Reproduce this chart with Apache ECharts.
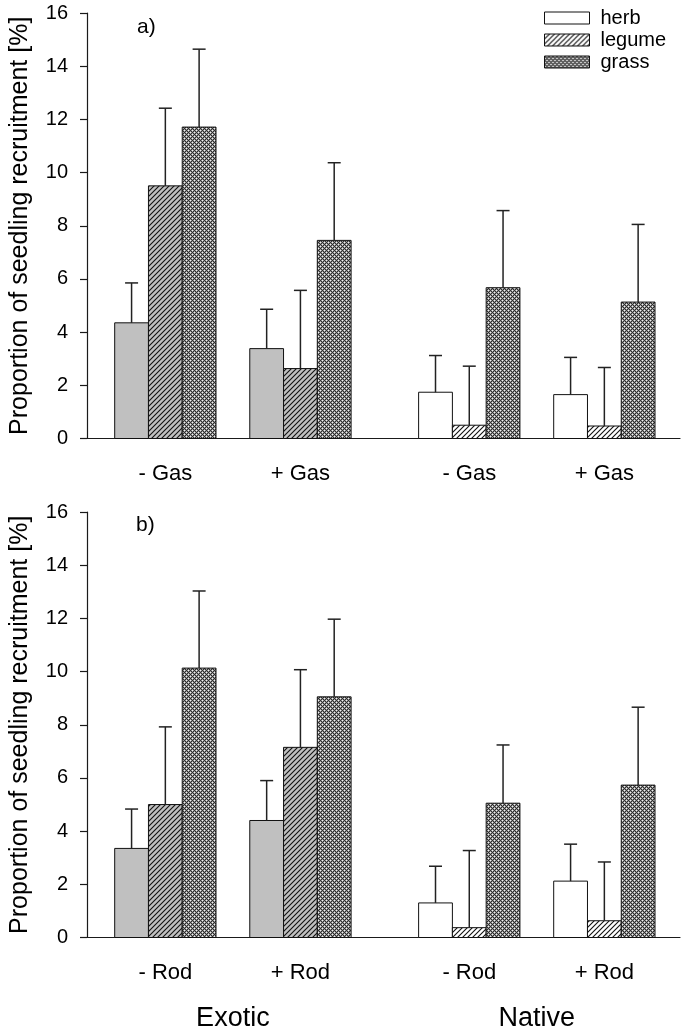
<!DOCTYPE html>
<html><head><meta charset="utf-8">
<script src="https://cdn.jsdelivr.net/npm/echarts@6/dist/echarts.min.js"></script>
<style>html,body{margin:0;padding:0;background:#fff}#c{width:685px;height:1032px}</style>
</head><body><div id="c"></div>
<script>
// ---------- data ----------
const seriesNames = ['herb', 'legume', 'grass'];
const treatmentsA = ['- Gas', '+ Gas', '- Gas', '+ Gas'];
const treatmentsB = ['- Rod', '+ Rod', '- Rod', '+ Rod'];
const origins = ['Exotic', 'Native'];
const groupOrigin = [0, 0, 1, 1];           // Exotic, Exotic, Native, Native
const panelLabels = ['a)', 'b)'];
const yAxisTitle = 'Proportion of seedling recruitment [%]';

// panel a (mean and upper end of error bar)
const herbA      = [4.35, 3.38, 1.74, 1.65];
const herbErrA   = [5.85, 4.86, 3.12, 3.05];
const legumeA    = [9.50, 2.63, 0.50, 0.47];
const legumeErrA = [12.42, 5.57, 2.72, 2.67];
const grassA     = [11.71, 7.45, 5.67, 5.13];
const grassErrA  = [14.64, 10.37, 8.57, 8.05];

// panel b
const herbB      = [3.35, 4.40, 1.30, 2.12];
const herbErrB   = [4.83, 5.90, 2.68, 3.51];
const legumeB    = [5.00, 7.15, 0.37, 0.63];
const legumeErrB = [7.92, 10.07, 3.27, 2.84];
const grassB     = [10.13, 9.05, 5.05, 5.73];
const grassErrB  = [13.03, 11.97, 7.24, 8.66];

// ---------- layout (not data) ----------
const groupX = [1, 2, 3.25, 4.25];
const barW = 0.25;
const FONT = '"Liberation Sans", Arial, sans-serif';

// ---------- patterns ----------
function hatch(bg) {
  const p = 5, c = document.createElement('canvas');
  c.width = c.height = p;
  const g = c.getContext('2d');
  g.fillStyle = bg; g.fillRect(0, 0, p, p);
  g.strokeStyle = '#111'; g.lineWidth = 1.1;
  g.beginPath();
  g.moveTo(-1, p + 1); g.lineTo(p + 1, -1);
  g.moveTo(-1, 1); g.lineTo(1, -1);
  g.moveTo(p - 1, p + 1); g.lineTo(p + 1, p - 1);
  g.stroke();
  return { image: c, repeat: 'repeat' };
}
function cross() {
  const p = 4, c = document.createElement('canvas');
  c.width = c.height = p;
  const g = c.getContext('2d');
  const img = g.createImageData(p, p);
  for (let y = 0; y < p; y++) for (let x = 0; x < p; x++) {
    let v = 150;
    if ((x + y) % 4 === 0 || (x - y + 4) % 4 === 0) v = 45;
    if (x === 2 && y === 0 || x === 0 && y === 2) v = 240;
    const i = (y * p + x) * 4;
    img.data[i] = img.data[i + 1] = img.data[i + 2] = v; img.data[i + 3] = 255;
  }
  g.putImageData(img, 0, 0);
  return { image: c, repeat: 'repeat' };
}
const GRAY = '#c0c0c0';
const fills = {
  herb: [GRAY, '#ffffff'],
  legume: [hatch(GRAY), hatch('#ffffff')],
  grass: [cross(), cross()]
};
const legendFill = { herb: '#ffffff', legume: hatch('#ffffff'), grass: cross() };

// ---------- helpers ----------
function buildData(means, errs, k) {
  return means.map((m, i) => [groupX[i] + (k - 1) * barW, m, errs[i], groupOrigin[i]]);
}
function barRender(name) {
  return function (params, api) {
    const x = api.value(0), v = api.value(1), e = api.value(2), o = api.value(3);
    const p0 = api.coord([x - barW / 2, 0]);
    const p1 = api.coord([x + barW / 2, v]);
    const pc = api.coord([x, v]);
    const pe = api.coord([x, e]);
    return {
      type: 'group',
      children: [
        { type: 'rect', shape: { x: p0[0], y: p1[1], width: p1[0] - p0[0], height: p0[1] - p1[1] },
          style: { fill: fills[name][o], stroke: '#111', lineWidth: 1 } },
        { type: 'line', shape: { x1: pc[0], y1: pc[1], x2: pe[0], y2: pe[1] },
          style: { stroke: '#222', lineWidth: 1.5 } },
        { type: 'line', shape: { x1: pe[0] - 6.5, y1: pe[1], x2: pe[0] + 6.5, y2: pe[1] },
          style: { stroke: '#222', lineWidth: 1.5 } }
      ]
    };
  };
}
function labelSeries(idx, labels) {
  return {
    type: 'custom', xAxisIndex: idx, yAxisIndex: idx, silent: true, clip: false,
    data: labels.map((t, i) => [groupX[i], 0]),
    renderItem: function (params, api) {
      const p = api.coord([api.value(0), 0]);
      return { type: 'text', x: p[0], y: p[1] + 35,
        style: { text: labels[params.dataIndex], textAlign: 'center', textVerticalAlign: 'middle',
                 fontSize: 22, fontFamily: FONT, fill: '#000' } };
    }
  };
}
function originSeries(idx) {
  return {
    type: 'custom', xAxisIndex: idx, yAxisIndex: idx, silent: true, clip: false,
    data: origins.map((t, j) => {
      const xs = groupX.filter((g, i) => groupOrigin[i] === j);
      return [(xs[0] + xs[xs.length - 1]) / 2, 0];
    }),
    renderItem: function (params, api) {
      const p = api.coord([api.value(0), 0]);
      return { type: 'text', x: p[0], y: p[1] + 81,
        style: { text: origins[params.dataIndex], textAlign: 'center', textVerticalAlign: 'middle',
                 fontSize: 27, fontFamily: FONT, fill: '#000' } };
    }
  };
}
function barSeries(idx, arrs) {
  return seriesNames.map((name, k) => ({
    name: name, type: 'custom', xAxisIndex: idx, yAxisIndex: idx, clip: false,
    itemStyle: { color: legendFill[name], borderColor: '#111', borderWidth: 1 },
    data: buildData(arrs[k][0], arrs[k][1], k),
    renderItem: barRender(name)
  }));
}

const grids = [
  { left: 87, width: 593, top: 13, height: 425.5 },
  { left: 87, width: 593, top: 512, height: 425.5 }
];
const axisLineStyle = { color: '#1a1a1a', width: 1.2 };

const option = {
  animation: false,
  backgroundColor: '#fff',
  grid: grids,
  xAxis: grids.map((g, i) => ({
    type: 'value', gridIndex: i, min: 0.42, max: 4.81,
    axisLine: { show: true, onZero: false, lineStyle: axisLineStyle },
    axisTick: { show: false }, axisLabel: { show: false }, splitLine: { show: false }
  })),
  yAxis: grids.map((g, i) => ({
    type: 'value', gridIndex: i, min: 0, max: 16, interval: 2,
    name: yAxisTitle, nameLocation: 'middle', nameGap: 54,
    nameTextStyle: { fontSize: 25, fontFamily: FONT, color: '#000' },
    axisLine: { show: true, lineStyle: axisLineStyle },
    axisTick: { show: true, inside: false, length: 7, lineStyle: axisLineStyle },
    axisLabel: { fontSize: 20, fontFamily: FONT, color: '#000', margin: 19 },
    splitLine: { show: false }
  })),
  legend: {
    data: seriesNames.map(n => ({ name: n, itemStyle: { color: legendFill[n], borderColor: '#111', borderWidth: 1 } })),
    orient: 'vertical', left: 544, top: 8, padding: 0, icon: 'rect',
    itemWidth: 45, itemHeight: 12, itemGap: 2, selectedMode: false,
    textStyle: { fontSize: 20, fontFamily: FONT, color: '#000', lineHeight: 18, padding: [0, 0, 0, 6] }
  },
  graphic: [
    { type: 'text', left: 137, top: 17, style: { text: panelLabels[0], fontSize: 21, fontFamily: FONT, fill: '#000' } },
    { type: 'text', left: 136, top: 515, style: { text: panelLabels[1], fontSize: 21, fontFamily: FONT, fill: '#000' } }
  ],
  series: [
    ...barSeries(0, [[herbA, herbErrA], [legumeA, legumeErrA], [grassA, grassErrA]]),
    ...barSeries(1, [[herbB, herbErrB], [legumeB, legumeErrB], [grassB, grassErrB]]),
    labelSeries(0, treatmentsA),
    labelSeries(1, treatmentsB),
    originSeries(1)
  ]
};
const chart = echarts.init(document.getElementById('c'));
chart.setOption(option);
</script>
</body></html>
